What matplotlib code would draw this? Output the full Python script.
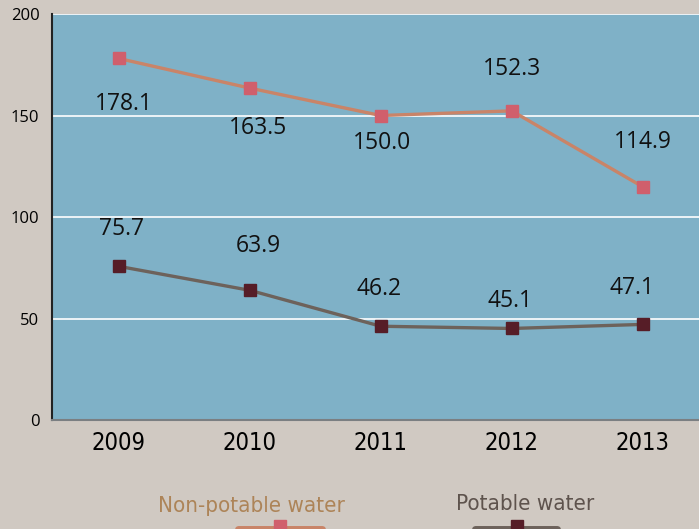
import matplotlib.pyplot as plt
from matplotlib.lines import Line2D

years = [2009, 2010, 2011, 2012, 2013]
non_potable = [178.1, 163.5, 150.0, 152.3, 114.9]
potable = [75.7, 63.9, 46.2, 45.1, 47.1]
y_ticks = [0, 50, 100, 150, 200]

# label offsets (points) relative to each marker
np_off = [(4, -33), (6, -29), (1, -20), (0, 30), (0, 32)]
p_off = [(2, 27), (6, 32), (-1, 27), (-1, 20), (-8, 26)]

plain = ['Open Sans', 'DejaVu Sans']

fig = plt.figure(figsize=(6.99, 5.29), dpi=100)
fig.patch.set_facecolor('#d0c9c2')
ax = fig.add_axes([0.0744, 0.206, 0.9256, 0.7675])
ax.set_facecolor('#7fb1c7')

ax.plot(years, non_potable, color='#c98468', lw=2.4, marker='s', ms=8,
        mfc='#d05f6c', mec='#d05f6c', zorder=3)
ax.plot(years, potable, color='#6d625b', lw=2.4, marker='s', ms=8,
        mfc='#561d27', mec='#561d27', zorder=3)

for i in range(len(years)):
    ax.annotate('%.1f' % non_potable[i], (years[i], non_potable[i]), xytext=np_off[i],
                textcoords='offset points', ha='center', va='center', fontsize=16.5,
                family=plain, color='#111111')
    ax.annotate('%.1f' % potable[i], (years[i], potable[i]), xytext=p_off[i],
                textcoords='offset points', ha='center', va='center', fontsize=16.5,
                family=plain, color='#111111')

ax.set_xlim(2008.49, 2013.43)
ax.set_ylim(0, 200)
ax.set_xticks(years)
ax.set_xticklabels([str(y) for y in years], fontsize=17, family='DejaVu Sans',
                   stretch='condensed')
ax.set_yticks(y_ticks)
ax.set_yticklabels([str(v) for v in y_ticks], fontsize=12, family=plain)
ax.tick_params(length=0, pad=9)
ax.tick_params(axis='x', pad=8)
ax.grid(axis='y', color='white', lw=1.2)
ax.set_axisbelow(True)
for s in ['top', 'right']:
    ax.spines[s].set_visible(False)
ax.spines['left'].set_color('#222222')
ax.spines['left'].set_linewidth(1.5)
ax.spines['bottom'].set_color('#7b7f82')
ax.spines['bottom'].set_linewidth(1.5)

# legend drawn by hand at the bottom
fig.text(251 / 699, 1 - 506 / 529, 'Non-potable water', ha='center', va='center',
         fontsize=16, family='DejaVu Sans', stretch='condensed', color='#ad8458')
fig.text(525 / 699, 1 - 504 / 529, 'Potable water', ha='center', va='center',
         fontsize=16, family='DejaVu Sans', stretch='condensed', color='#5e534d')
fig.add_artist(Line2D([238 / 699, 322 / 699], [0.0, 0.0], color='#c98468', lw=5,
                      solid_capstyle='round'))
fig.add_artist(Line2D([280 / 699], [0.005], marker='s', ms=8, color='#d05f6c', lw=0))
fig.add_artist(Line2D([475 / 699, 557 / 699], [0.0, 0.0], color='#6d625b', lw=5,
                      solid_capstyle='round'))
fig.add_artist(Line2D([517 / 699], [0.005], marker='s', ms=8, color='#561d27', lw=0))

fig.savefig('out.png', dpi=100, facecolor=fig.get_facecolor())
